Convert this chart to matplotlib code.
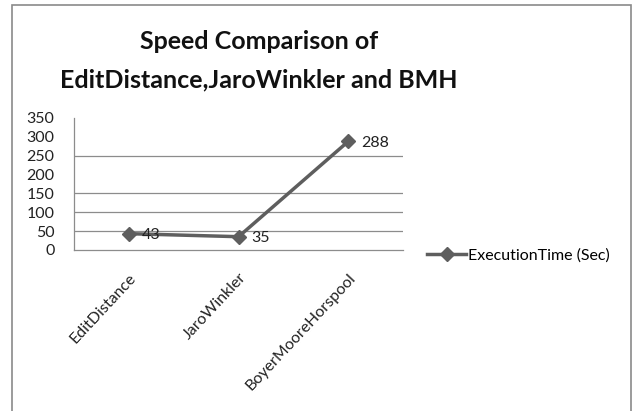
import matplotlib
matplotlib.use("Agg")
import matplotlib.pyplot as plt
from matplotlib.patches import Rectangle

plt.rcParams['font.family'] = ['Lato', 'DejaVu Sans']

# Execution times per algorithm
algorithms = ['EditDistance', 'JaroWinkler', 'BoyerMooreHorspool']
exec_time = [43, 35, 288]
y_ticks = [0, 50, 100, 150, 200, 250, 300, 350]
grid_levels = [50, 100, 150, 250]

line_color = '#5e5e5e'
text_color = '#222222'

fig = plt.figure(figsize=(6.32, 4.11), dpi=100)
ax = fig.add_axes([0.117, 0.392, 0.521, 0.321])

# outer chart frame
fig.patches.append(Rectangle((12 / 632, -0.05), 618.5 / 632, 1 - 5 / 411 + 0.05,
                             transform=fig.transFigure, fill=False,
                             edgecolor='#8a8a8a', linewidth=1.2))

x = list(range(len(algorithms)))
ax.plot(x, exec_time, color=line_color, linewidth=2.5, marker='D', markersize=7.5,
        label='ExecutionTime (Sec)', zorder=3)

for xi, v in zip(x, exec_time):
    ax.annotate(str(v), (xi, v), xytext=(9, -1), textcoords='offset points',
                ha='left', va='center', fontsize=11.5, color=text_color)

for g in grid_levels:
    ax.axhline(g, color='#8c8c8c', linewidth=0.9, zorder=1)

ax.set_xlim(-0.5, 2.5)
ax.set_ylim(0, 350)
ax.set_yticks(y_ticks)
ax.set_yticklabels([str(t) for t in y_ticks], fontsize=11.5, color=text_color)
ax.set_xticks(x)
ax.set_xticklabels(algorithms, rotation=47, ha='right', va='top',
                   rotation_mode='anchor', fontsize=11.5, color=text_color)
ax.tick_params(axis='y', length=0, pad=14)
ax.tick_params(axis='x', length=0, pad=15)

for side in ['top', 'right']:
    ax.spines[side].set_visible(False)
for side in ['left', 'bottom']:
    ax.spines[side].set_color('#8c8c8c')
    ax.spines[side].set_linewidth(0.9)

fig.text(0.41, 0.9, 'Speed Comparison of', ha='center', va='center',
         fontsize=18, fontweight='bold', color='#111111')
fig.text(0.41, 0.805, 'EditDistance,JaroWinkler and BMH', ha='center', va='center',
         fontsize=18, fontweight='bold', color='#111111')

ax.legend(loc='center left', bbox_to_anchor=(1.03, -0.04), frameon=False,
          fontsize=11.5, handlelength=2.4, handletextpad=0.15)

fig.savefig('out.png', dpi=100, facecolor='white')
